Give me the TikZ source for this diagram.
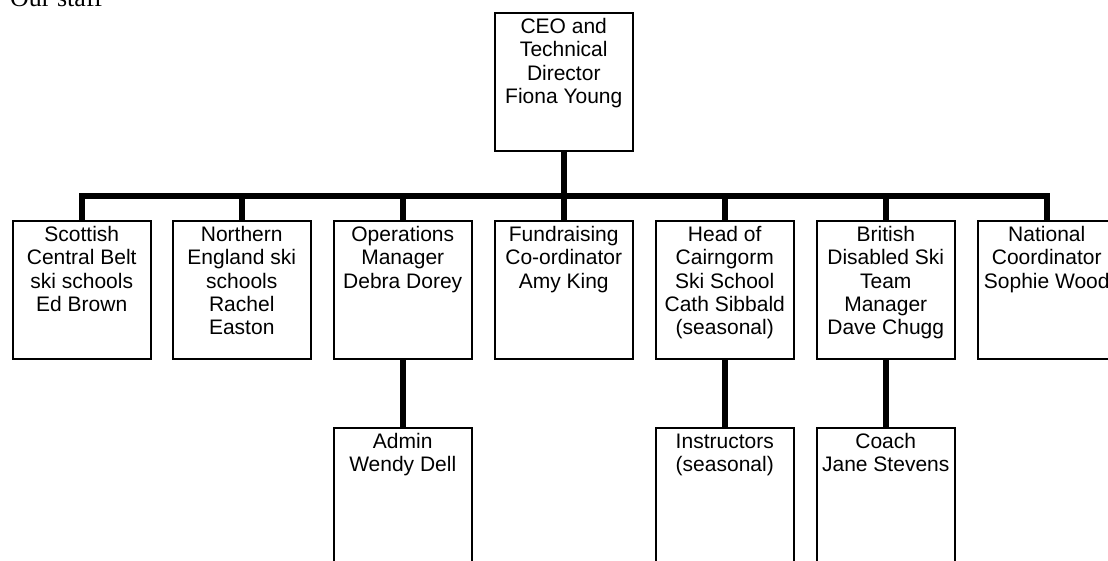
\documentclass[tikz,border=0pt]{standalone}
\usepackage{fontspec}
\setmainfont{Liberation Sans}
\newfontfamily\serifx{Liberation Serif}
\newcommand{\firstline}{\rule{0pt}{16pt}}
\begin{document}
\begin{tikzpicture}[x=1pt,y=-1pt,
  box/.style={draw, line width=1.5pt, anchor=north west, minimum width=138pt, minimum height=138pt, inner sep=0pt},
  lowbox/.style={box, minimum height=200pt},
  txt/.style={anchor=north, align=center, inner sep=0pt, font=\fontsize{21}{23.3}\selectfont},
  conn/.style={line width=6pt, line join=miter}]
\useasboundingbox (0,0) rectangle (1108,560);
\clip (0,0) rectangle (1108,560);
\node[anchor=base west, inner sep=0pt, font=\serifx\fontsize{26}{30}\selectfont] (title) at (10,6) {Our staff};
% boxes
\node[box] (ceo) at (494,12) {};
\node[box] (b1) at (12,220) {};
\node[box] (b2) at (172,220) {};
\node[box] (b3) at (333,220) {};
\node[box] (b4) at (494,220) {};
\node[box] (b5) at (655,220) {};
\node[box] (b6) at (816,220) {};
\node[box] (b7) at (977,220) {};
\node[lowbox] (c3) at (333,427) {};
\node[lowbox] (c5) at (655,427) {};
\node[lowbox] (c6) at (816,427) {};
% texts
\node[txt] (tceo) at ([yshift=-5.3pt]ceo.north) {\firstline CEO and\\Technical\\Director\\Fiona Young};
\node[txt] (t1) at ([yshift=-5.3pt]b1.north) {\firstline Scottish\\Central Belt\\ski schools\\Ed Brown};
\node[txt] (t2) at ([yshift=-5.3pt]b2.north) {\firstline Northern\\England ski\\schools\\Rachel\\Easton};
\node[txt] (t3) at ([yshift=-5.3pt]b3.north) {\firstline Operations\\Manager\\Debra Dorey};
\node[txt] (t4) at ([yshift=-5.3pt]b4.north) {\firstline Fundraising\\Co-ordinator\\Amy King};
\node[txt] (t5) at ([yshift=-5.3pt]b5.north) {\firstline Head of\\Cairngorm\\Ski School\\Cath Sibbald\\(seasonal)};
\node[txt] (t6) at ([yshift=-5.3pt]b6.north) {\firstline British\\Disabled Ski\\Team\\Manager\\Dave Chugg};
\node[txt] (t7) at ([yshift=-5.3pt]b7.north) {\firstline National\\Coordinator\\Sophie Wood};
\node[txt] (u3) at ([yshift=-5.3pt]c3.north) {\firstline Admin\\Wendy Dell};
\node[txt] (u5) at ([yshift=-5.3pt]c5.north) {\firstline Instructors\\(seasonal)};
\node[txt] (u6) at ([yshift=-5.3pt]c6.north) {\firstline Coach\\Jane Stevens};
% connectors
\coordinate (bus) at (563,196);
\draw[conn] (ceo.south) -- (ceo.south |- bus);
\draw[conn] (b1.north) -- (b1.north |- bus) -- (b7.north |- bus) -- (b7.north);
\foreach \n in {b2,b3,b4,b5,b6}
  \draw[conn] (\n.north) -- (\n.north |- bus);
\draw[conn] (b3.south) -- (c3.north);
\draw[conn] (b5.south) -- (c5.north);
\draw[conn] (b6.south) -- (c6.north);
\end{tikzpicture}
\end{document}
